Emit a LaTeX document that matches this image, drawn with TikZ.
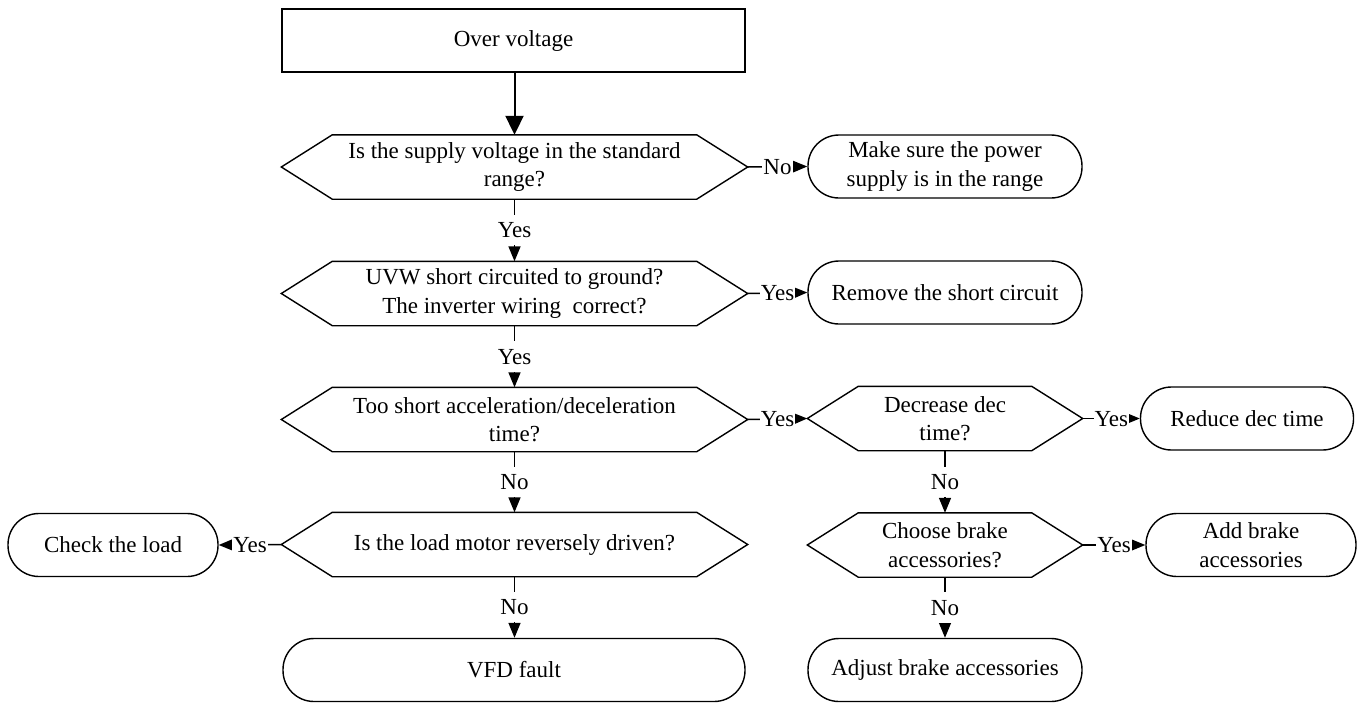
\documentclass[tikz,border=0pt]{standalone}
\usepackage{fontspec}
\setmainfont{Liberation Serif}
\usetikzlibrary{arrows.meta}
\tikzset{
  base/.style={line width=1.4pt, font=\fontsize{23}{28.5}\selectfont},
  startbox/.style={draw, line width=1.4pt, minimum width=463pt, minimum height=63pt, inner sep=0pt, align=center},
  hexnode/.style={minimum height=63pt, inner sep=0pt, align=center},
  stadium/.style={draw, line width=1.4pt, rounded corners=31pt, minimum height=63pt, inner sep=0pt, align=center},
  conn/.style={line width=1.5pt, -{Triangle[length=15pt,width=12pt]}},
  bigconn/.style={line width=2pt, -{Triangle[length=19pt,width=18pt]}},
  lab/.style={fill=white, inner xsep=1pt, inner ysep=7.5pt, text depth=0pt},
}
\newcommand{\hexoutline}[1]{\draw[line width=1.4pt, line join=miter] (#1.west) -- ([xshift=51pt]#1.north west) -- ([xshift=-51pt]#1.north east) -- (#1.east) -- ([xshift=-51pt]#1.south east) -- ([xshift=51pt]#1.south west) -- cycle;}
\begin{document}
\begin{tikzpicture}[x=1pt, y=-1pt, base]
\useasboundingbox (0,0) rectangle (1365,702);

\node[startbox] (start) at (513.5,40.5) {Over voltage};

\node[hexnode, minimum width=465pt] (h1) at (514.5,167) {Is the supply voltage in the standard\\range?};
\hexoutline{h1}
\node[stadium, minimum width=274pt] (m1) at (945,166.5) {Make sure the power\\supply is in the range};

\node[hexnode, minimum width=465pt] (h2) at (514.5,293.5) {UVW short circuited to ground?\\The inverter wiring\ \ correct?};
\hexoutline{h2}
\node[stadium, minimum width=274pt] (m2) at (945,292.5) {Remove the short circuit};

\node[hexnode, minimum width=465pt] (h3) at (514.5,419.5) {Too short acceleration/deceleration\\time?};
\hexoutline{h3}
\node[hexnode, minimum width=274pt] (h5) at (945,418.5) {Decrease dec\\time?};
\hexoutline{h5}
\node[stadium, minimum width=213pt] (r5) at (1247,418.5) {Reduce dec time};

\node[hexnode, minimum width=465pt] (h4) at (514.5,544.5) {Is the load motor reversely driven?};
\hexoutline{h4}
\node[stadium, minimum width=210pt] (load) at (113,545) {Check the load};
\node[hexnode, minimum width=274pt] (h6) at (945,545) {Choose brake\\accessories?};
\hexoutline{h6}
\node[stadium, minimum width=210pt] (add) at (1251,545) {Add brake\\accessories};

\node[stadium, minimum width=462pt] (vfd) at (514,670) {VFD fault};
\node[stadium, minimum width=274pt] (adj) at (945,670) {Adjust brake accessories};

% connectors
\draw[bigconn] (start.south -| h1.north) -- (h1.north);
\draw[conn] (h1.south) -- node[lab]{Yes} (h2.north);
\draw[conn] (h2.south) -- node[lab]{Yes} (h3.north);
\draw[conn] (h3.south) -- node[lab]{No} (h4.north);
\draw[conn] (h4.south) -- node[lab]{No} (vfd.north -| h4.south);
\draw[conn] (h5.south) -- node[lab]{No} (h6.north);
\draw[conn] (h6.south) -- node[lab]{No} (adj.north);

\draw[conn] (h1.east) -- node[lab]{No} (m1.west);
\draw[conn] (h2.east) -- node[lab]{Yes} (m2.west);
\draw[conn] (h3.east) -- node[lab]{Yes} (h5.west);
\draw[conn] (h5.east) -- node[lab]{Yes} (r5.west);
\draw[conn] (h6.east) -- node[lab]{Yes} (add.west);
\draw[conn] (h4.west) -- node[lab]{Yes} (load.east);
\end{tikzpicture}
\end{document}
